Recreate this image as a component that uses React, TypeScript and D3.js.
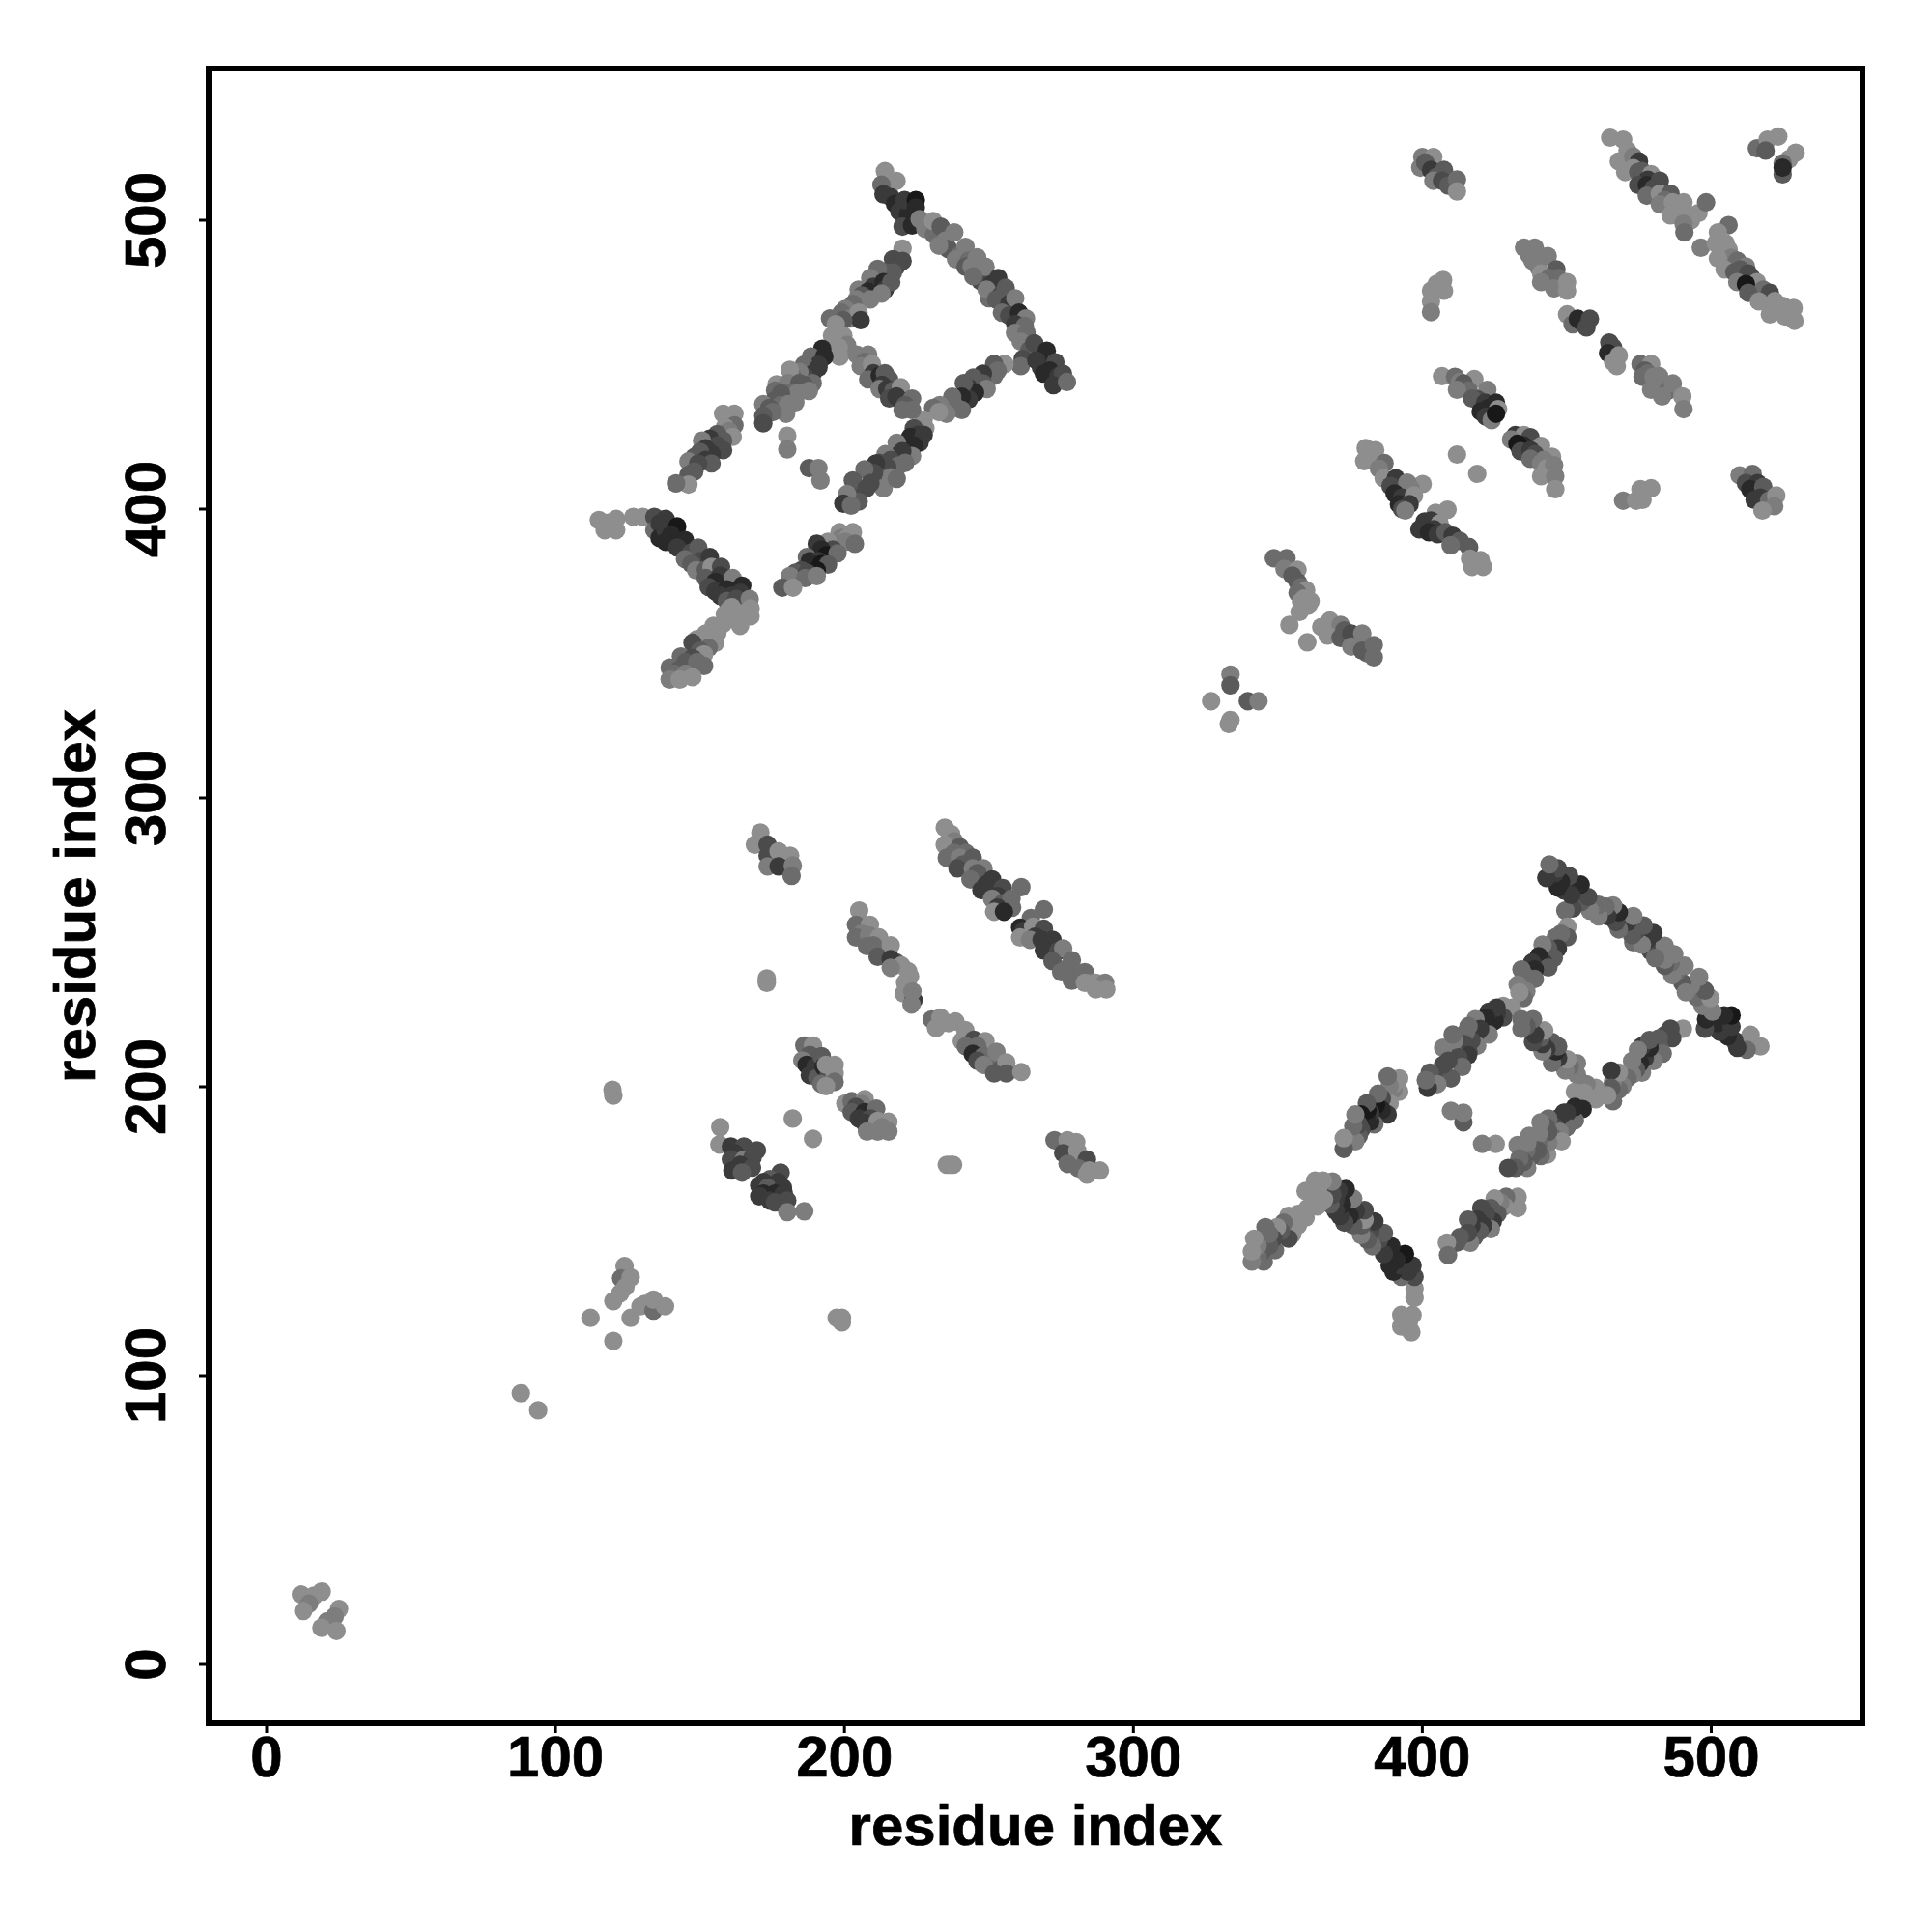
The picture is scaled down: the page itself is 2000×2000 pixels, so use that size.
import React from "react";
import * as d3 from "d3";

type P = [number, number, number];

const tickValues = [0, 100, 200, 300, 400, 500];
const axisTitle = "residue index";

// [residue i, residue j, grey level 1 (darkest) .. 8 (lightest)]
const blockStrandTop: P[] = [[214,517,8],[218,513.6,8],[212.8,512.3,6],[213.5,509,3],[216,508,3],[217.5,505.7,2],[219,503,3],[222,502,2],[220.8,507,3],[224.7,507,1],[224.7,504.4,2],[220.1,497.8,4],[223.4,498.2,2],[226,500.4,7],[228,497,7],[231,495,6],[230.7,499.7,8],[233.3,497.8,5],[235,493,7],[236,490,5],[238,495.8,7],[232.7,491.2,7],[240,488,6],[241.9,490.8,7],[238.6,486.5,7],[243,486,6],[246,484,5],[245.9,487.2,7],[241.9,483.9,5],[244,484,7],[247,479,4],[248.8,483.9,7],[244.6,480.6,6],[251,478,3],[253.2,480,3],[250,473,6],[249.2,476,7],[254,474,4],[255.8,476.6,5],[252.5,472.6,5],[257,471,3],[259.1,473,7],[254.5,468,6],[257,467,4],[260.4,468,2],[262.8,466,7],[259.1,464,3],[262.4,463.4,6],[259,461,7],[263,461,6],[261,458,7],[264,455,5],[261.7,452,4],[261,449.5,6],[265.7,457.4,4],[269,452,2],[270,454.8,2],[266.4,451.5,3],[268,449,3],[273,450.8,4],[271,448,2],[269,446.9,2],[274,446,3],[275.6,446.9,4],[272.3,442.9,3],[277,444,6]];

const blockStrandLower: P[] = [[255.4,450.2,8],[251.8,450.2,5],[253,448,6],[251.8,446.2,6],[247.9,446.9,3],[248,443.5,5],[244.6,445.5,5],[243,442,3],[249.2,441.6,7],[245.2,440.3,2],[243,438,3],[241.3,443.6,5],[240.6,438.9,2],[237.3,438.9,6],[238,436,6],[240.6,434.3,6],[233,436,7],[235.3,433,7],[230.7,435,6],[232.7,433.6,8],[227.4,431,8],[228,428,8],[226.7,428.4,8],[224,428,4],[225.4,425.7,3],[222.8,425,2],[226,423,3],[227.4,425.7,3],[222.1,421,3],[224,422,2],[223.4,418.4,7],[218.1,423,7],[220,420,3],[218.1,418.4,3],[221,416,6],[214.2,419,7],[216,417,4],[218.8,415.1,6],[214.8,414.5,4],[212,416,4],[210.9,415.8,3],[212,411,5],[216,411,7],[210.2,412.5,4],[213.5,407.2,7],[218.1,410.5,6],[206.9,413.8,6],[209,409,4],[202.9,409.9,5],[205,406,5],[207.6,407.2,4],[203,404,4],[204.9,402.6,5],[200.9,405.2,7],[199.6,401.9,3],[202.3,401.2,6]];

const blockStrandMiddle: P[] = [[220.1,490.2,8],[216.8,486.5,4],[220.1,485.9,4],[218,484,4],[216.8,481.9,5],[214,482,5],[211.5,483.2,6],[208.9,480,7],[210,477,3],[213.5,478.6,2],[214,476,3],[216.2,478.6,5],[204.9,476,7],[208.2,475.3,2],[206,474,5],[212.8,474.6,7],[204.2,472.6,7],[208.9,472.6,7],[203,471,6],[200.3,469.3,7],[199,468,6],[195,466,6],[202,466,7],[204.9,468,8],[205.6,465.4,3],[199.6,465.4,5],[197,464,8],[195.7,460,8],[199.6,460,8],[200.9,456.8,7],[198,456,8],[195.7,456.1,8],[198.3,452.8,8],[192.3,455.5,2],[188.4,452.8,6],[193,452.8,2],[191,450,3],[186,450,6],[191,449,3],[189,446.9,3],[186,446,4],[184.4,447.5,7],[182,446,6],[181.1,448.2,8],[189,443.6,6],[176.5,443.2,8],[180.5,443.6,7],[186,443,5],[184.4,443.6,5],[187.7,440.9,7],[176,441,6],[180.5,440.3,6],[183.8,440.3,7],[178,440,5],[175.8,437.6,5],[183,437,7],[171.9,436.3,7],[178,436,6],[180.5,436.3,7],[174,435,5],[179.8,433,7],[175.2,433.6,6],[171.9,432.3,5],[171.9,429.7,4]];

const blockStrandCross: P[] = [[204.2,453.5,7],[208.2,453.5,7],[207,451,6],[205.6,449.5,7],[209.5,450.2,8],[210,447,3],[208.2,444.9,6],[212.2,446.2,2],[214,447,5],[215.5,444.9,5],[213,443,3],[212.2,441.6,7],[214.8,441.6,3],[217,441,5],[219.5,442.2,8],[215.5,438.3,4],[218,439,3],[219.5,437.6,3],[223.4,438.3,6],[221,436,5],[220.1,434.3,6],[223.4,434.3,6],[180.2,425.4,8],[180.2,420.7,7],[187.7,414.2,5],[191,414.2,7],[191.7,409.9,7]];

const blockStrandLeft: P[] = [[158,433,8],[161.9,433,8],[161.9,429,6],[158.6,428.4,8],[160,427,7],[161.3,425,8],[156,426,5],[158,423.7,5],[153.4,424.4,3],[156,422,4],[150.7,423.7,7],[158,420.4,4],[152,421,3],[154,419.1,3],[150,419.8,5],[148,418,5],[152,417,3],[154,415.8,5],[146,416.5,7],[149.4,415.8,4],[148,413,5],[146,411.8,5],[146,408.5,8],[141.7,408.9,6]];

const blockStrandBottom: P[] = [[115,396.2,8],[118.3,395.3,8],[121,396.6,8],[117,392.7,8],[121,392.7,8],[126.9,397.3,8],[130.2,397.3,8],[134.2,397.3,4],[134.2,392.7,6],[136,395,3],[136,390,2],[138.1,396.6,3],[138.1,392.7,3],[142.1,394,1],[140,391,2],[138.1,388.7,2],[144.8,389.3,2],[142.1,386.7,3],[147,385,4],[149.4,386.7,5],[144.8,382.7,6],[150,382,4],[147,381,5],[153.4,383.4,3],[148.7,378.8,7],[152,379,5],[154,380,8],[157.3,380,4],[152,376.1,5],[157,377,3],[155.3,374.8,2],[161.3,376.1,7],[153,373,4],[155.3,371.5,3],[159.3,372.2,2],[157,370,3],[164.6,373.5,2],[161,370,3],[164,371,3],[159.3,368.2,5],[162.6,368.9,4],[167.2,368.9,7],[167.5,365.6,8],[167.5,362.9,8],[161,366,8],[165,364,8],[160,365,8],[158.6,363.6,8],[162.6,361.6,8],[163.9,359.6,8],[154.7,359.6,8],[158,360.3,8],[156,357,8],[152,356.9,8],[149,355,8],[155.3,353.7,8],[147.4,353.7,4],[153,352,6],[150,351,5],[151.4,349.7,8],[143.4,349,6],[147.4,348.4,4],[145,347,5],[149,347,6],[151.4,345.7,6],[139.5,345.1,6],[142.8,344.4,5],[141,343,6],[145,343,7],[147.4,341.8,8],[139.5,341,7],[143,341,8]];

const blockStrandEnd: P[] = [[202.9,392,8],[198.3,392,8],[199,390,7],[201,390,8],[200.3,388.7,7],[203.6,388,6],[194.3,388.7,8],[190.4,388,3],[196,386,4],[192,386,2],[193.7,384,1],[197.6,384.7,6],[187,383.4,6],[188,382,2],[191,382,3],[189,380.8,2],[192,381,1],[194.3,380.8,5],[185.1,378.8,4],[190.4,378.8,1],[183,378,5],[187,378,4],[181.1,376.8,7],[186.4,376.1,6],[190.4,376.8,7],[178.5,372.8,5],[182.2,372.8,8]];

const cTerminalOuter: P[] = [[400,521.9,7],[403.8,521.9,8],[399.3,518.2,7],[401,520,5],[403,517.4,3],[407.5,517.4,5],[405,515,5],[403.8,513.7,7],[406.8,513.7,4],[409,512,5],[412,514.1,6],[412,510,8],[407.2,479.3,8],[405,478,8],[403,475.6,8],[407.5,475.6,8],[403,471.9,8],[403,468.2,7],[515.8,524.9,6],[519.5,527.9,8],[523.2,529,8],[518.8,524.1,5],[529.2,523.4,8],[527,521.2,8],[524.7,519.7,6],[524.7,515.9,5],[524.7,518.2,2],[469.5,402.9,7],[474,402.9,8],[475.5,406.9,8],[479.2,407.2,8],[476.2,403.2,8],[509.8,411.7,7],[514.3,412.2,6],[512,409,4],[516,409,3],[513.5,406.9,2],[518,407.7,5],[517,404,3],[515,403.2,3],[520,403,6],[522.5,404.7,8],[521.8,401,7],[517.7,399.5,8],[412,418.9,8],[419,412.2,8]];

const cTerminalLong: P[] = [[465,528.6,8],[469.5,527.9,8],[471,524.1,8],[468,520.4,8],[473,522,7],[475,520.4,3],[473,518,8],[470.2,516.7,8],[474.7,516.7,5],[476,517,5],[479.2,515.9,8],[478,514,3],[474.7,512.2,4],[477.7,512.2,2],[482.2,513.7,4],[480,511,4],[477.7,508.5,6],[482.2,509.2,8],[485.9,509.2,5],[484,507,6],[482.2,505.5,7],[486.7,506.2,8],[490.4,506.2,8],[488,503,8],[485.9,501.7,8],[491.2,502.5,8],[495.6,502.5,8],[493,500,8],[498.2,506.2,6],[490.4,498.8,7],[490.7,495.8,6],[506,498.3,6],[502.3,495.8,8],[496.4,490.5,7],[501.6,492,8],[505,492,8],[506,489.8,8],[507,487,7],[502.3,486.8,8],[509,486,6],[512,484,7],[504.6,483,8],[510,483,5],[508,482,5],[512.8,481.6,4],[514,480,4],[509,478.6,7],[515.8,478.6,8],[512,477.9,1],[518,476,6],[512.8,474.9,5],[520.3,474.9,4],[522,472,8],[516.5,471.9,8],[521,469.6,8],[524.7,470.4,8],[526,468,8],[528.5,469.6,8],[520.3,467.4,8],[525.5,466.7,8],[528.8,465.2,8]];

const cTerminalMiddle: P[] = [[435.2,490.5,7],[438.9,490.5,7],[437,488,7],[438.1,486,7],[443.4,487.6,7],[440,484,7],[441.1,481.6,8],[446.4,483,5],[444,480,6],[447,480,6],[441.1,478.6,7],[445.6,476.4,7],[450.1,478.6,8],[450.1,475.6,8],[450.1,467.4,8],[452,464,6],[453.8,465.9,2],[455,465,2],[458,465.9,4],[456.8,462.9,4],[464.7,457.7,4],[466,456,4],[464.3,454,2],[468,453.2,8],[466,451,8],[467.3,449.5,8],[475.5,450.2,6],[479.2,450.2,8],[477,448,5],[478,447,6],[476.2,445.8,6],[480,445.8,7],[482,446,7],[483.7,442.8,7],[479.2,441.3,7],[485,441,6],[486.7,443.5,7],[483,439,7],[490,439,8],[490.4,434.6,7]];

const cTerminalInner: P[] = [[406.8,446,8],[411.3,445.8,6],[413,444,7],[418,445,8],[414.3,443.5,5],[416,441,6],[412,441.3,7],[422.5,441.3,7],[419,438,4],[417.2,438.3,5],[421.7,436.8,3],[423,435,2],[425.5,436.8,2],[426.2,434.6,8],[420.2,433.8,2],[422,432,3],[424,430.8,7],[425.5,433,1],[432.2,425.6,3],[435.2,425.6,8],[437.4,424.9,4],[430.7,424.1,7],[435,422,2],[432.9,422.6,1],[441.1,421.9,8],[434,420,4],[437.4,420.4,3],[439,419,4],[444.9,418.1,8],[442,417,7],[437.4,417.4,6],[441.1,415.9,7],[443,414,8],[445.6,415.2,7],[441.1,411.4,8],[446,411.4,7],[446,406.9,8]];

const cTerminalLeft: P[] = [[380.4,421.1,8],[383.7,420.4,8],[382,418,8],[379.9,416.6,8],[383.7,416.6,8],[386.9,415.9,6],[385,414,7],[386.6,410.7,8],[390.8,410.7,3],[400.1,408.7,8],[389,408,4],[394.8,409.2,7],[396,407,7],[390.4,405.4,2],[393,404,3],[397.1,404.7,8],[391.9,401.7,2],[395.6,401.7,3],[393,400,4],[394.1,399.5,7],[408.7,399.8,8],[404.6,398.7,8],[406,398,8],[403,396,3],[400.8,395.7,3],[406,395,8],[404,393,3],[399,393,3],[402.3,392,2],[405.3,391.3,3],[408,392,5],[410.5,390.8,3],[413,389,5],[409.8,387.5,6],[416.2,386.8,5],[416.5,382.8,8],[420.2,382.3,8],[417.2,380,8],[421,380,8]];

const cTerminalLinker: P[] = [[348.6,383,6],[353,383,6],[352.3,379.3,7],[356.8,379,8],[355,377,5],[356.8,374.8,5],[358,373,6],[359.8,371.9,8],[356.8,371,6],[359,369,8],[361.3,368.1,8],[358,368,8],[357.5,364.4,8],[360.5,366.6,8],[354,359.9,8],[360.2,353.9,8],[368,361.4,8],[365,359.2,8],[369,358,8],[371.7,359.9,7],[373,358,5],[367.2,356.2,8],[371.7,355.4,5],[375.4,356.9,4],[377,354,4],[379.2,356.9,7],[375.4,352.4,7],[381,350,6],[379.2,351,5],[383.2,352.9,6],[383.2,348.7,6],[333.6,342.7,7],[333.6,339,5],[326.9,333.5,8],[339.6,333.5,5],[343.3,333.5,7],[333.6,327,8],[333,325.6,8]];

const nTerminalCore: P[] = [[170.9,288,8],[169,283.8,8],[173.4,283.8,4],[173.4,280,4],[177.2,281.5,8],[181.2,280,8],[173.4,276.3,7],[177.2,276.3,3],[182.1,276.6,7],[181.7,273,6],[272.7,181.5,6],[277.2,181.5,8],[280.2,180.8,8],[275.7,177,4],[280.6,177.8,8],[277.2,173.3,6],[283.9,174.8,4],[280.9,171.8,6],[284.7,171,8],[288.4,171,8],[283.9,169.6,8],[173.1,237.5,8],[173.1,236,8],[119.7,199,8],[120,196.9,8],[182.1,189,8],[189.1,182,8],[235.4,173,8],[236.6,173,8],[237.6,173,8],[197.3,120,8],[199.1,120,8],[199.1,118.4,8]];

const nTerminalLong: P[] = [[234.7,289.7,8],[236.9,287.5,8],[238,285,7],[234.7,283.8,8],[239.9,283,5],[238,281,6],[242,281,6],[235.4,279.3,6],[239.9,279.3,7],[244.4,279.3,5],[241,277,5],[239.1,275.6,4],[244.4,275.6,7],[248.1,275.6,7],[246,274,5],[243.6,271.8,6],[249,270,3],[251.1,271.8,3],[247.4,268.1,3],[254.8,268.8,4],[253,266,3],[261.2,269.1,6],[251.1,265.1,7],[254.8,263.6,5],[257.8,265.1,6],[253,262,3],[258,262,6],[251.8,260.6,8],[255.2,260.6,2],[269,261.4,6],[264.5,258.4,6],[260.8,255.1,2],[262,254,3],[260.8,251.7,8],[265.3,255.4,8],[269,254.7,4],[266,252,3],[264.2,250.9,7],[268.2,250.9,3],[272,250.9,3],[270,249,3],[269,247.2,3],[274,247,4],[275.7,247.9,7],[272,243.5,5],[278.7,243.8,6],[277,241,6],[275,239.7,6],[281,238,6],[283.2,239.7,6],[278.7,236.7,6],[285,236,7],[283.2,236,8],[287,236,8],[290.2,236,7],[287,233.7,8],[290.6,233.7,8]];

const nTerminalMiddle: P[] = [[205.1,261,8],[204,256.1,6],[208.8,256.1,8],[206,253,7],[204,251.7,6],[208.5,252.4,7],[212,251.7,8],[210,249,6],[207.8,248.7,6],[213,246,6],[216,249,8],[211.5,245,5],[218,243,5],[216,244.2,3],[219.7,242,8],[222,240,8],[216,241.2,7],[222.7,238.2,8],[221,236,8],[220.5,232.3,8],[223.9,230,3],[223.5,233,7],[223.2,228.5,7],[230.2,223.3,6],[233.2,224,8],[236,222,8],[231.7,220.3,8],[238.4,222.6,8],[241.8,219.6,8],[240.6,215.8,8],[244.8,216.3,4],[248.8,215.8,8],[246,214,6],[242,214,6],[244.4,211.4,2],[250,209,6],[248.1,210.6,6],[252.6,212.1,7],[246,209,4],[248.1,207.6,7],[254,206,5],[256,208.4,8],[251.8,204.6,5],[256,204.6,5],[261.2,205.1,8]];

const nTerminalInner: P[] = [[186.1,214.3,6],[189.1,214.3,8],[188,211,5],[185.4,209.1,7],[186.9,207.6,2],[190,207,3],[192.1,210.6,5],[188,204,3],[190.6,203.1,5],[192.8,206.9,2],[194,203,4],[193.6,207.6,8],[196.6,207.6,8],[196.6,204.6,8],[196.6,201.7,6],[192,201,6],[193.6,200.2,8],[200.3,194.2,8],[202.5,195,6],[207,195.7,8],[206,194,7],[204,193,4],[202.5,191.2,5],[207,191.2,2],[211,192.4,6],[205,189,3],[209,189,4],[207,187.5,3],[211.5,188.2,8],[215.2,187.9,8],[213,186,7],[207.8,184.5,7],[211.5,184.5,7],[215.2,184.5,7],[157,186,8],[156.7,180,8],[160.7,179.3,3],[165.2,179.3,4],[169.7,178,4],[162,177,3],[163,176,3],[160.7,174.8,4],[165.2,174.8,7],[168.2,175.5,4],[164,173,3],[168,172,4],[161.2,171,3],[164.5,170.3,5],[177.9,170.3,4],[174.2,168,5],[172,167,3],[177,167,3],[170.5,165.8,3],[173.4,165,5],[178.7,165,3],[172,163,2],[176,163,2],[179,163,3],[170.5,162.1,3],[174.2,160.6,3],[176,160,4],[180.2,160.6,4],[180.2,156.6,7],[186.1,156.9,7]];

const nTerminalSparse: P[] = [[123.9,137.9,8],[122.7,133.7,6],[126,134,8],[124.2,130.7,8],[122.4,128.5,8],[120,125.8,8],[112.1,120,8],[120,112,8],[126,120,8],[129.4,124,8],[130.9,124.8,8],[133.9,122.5,6],[133.9,126.3,8],[137.9,124,8],[88,93.9,8],[94,88,8],[11.9,24.2,8],[19.1,25.2,8],[16.4,23.8,8],[14.7,21,7],[12.7,18.5,8],[25.1,19.2,8],[23.6,16.6,7],[20.9,14.9,7],[19,12.7,8],[24.2,11.6,8]];

const interDomainBlock = [...blockStrandTop, ...blockStrandLower, ...blockStrandMiddle, ...blockStrandCross, ...blockStrandLeft, ...blockStrandBottom, ...blockStrandEnd];
const withinDomains = [...cTerminalOuter, ...cTerminalLong, ...cTerminalMiddle, ...cTerminalInner, ...cTerminalLeft, ...cTerminalLinker, ...nTerminalCore, ...nTerminalLong, ...nTerminalMiddle, ...nTerminalInner, ...nTerminalSparse];

const x = d3.scaleLinear().domain([0, 500]).range([276, 1771.5]);
const y = d3.scaleLinear().domain([0, 500]).range([1723, 228]);
const grey = d3.scaleLinear().domain([1, 8]).range([24, 142]).clamp(true);
const fillOf = (level: number) => { const g = Math.round(grey(level)); return `rgb(${g},${g},${g})`; };

const left = 216, right = 1928, top = 71, bottom = 1784;
const font = "'Liberation Sans', Arial, sans-serif";
const textProps = { fontFamily: font, fontWeight: "bold", fontSize: 60, fill: "#000", stroke: "#000", strokeWidth: 0.7, textAnchor: "middle" } as const;

export default function App() {
  // the contact map is symmetric: the block above the diagonal is repeated below it
  const points: P[] = [
    ...withinDomains,
    ...interDomainBlock,
    ...interDomainBlock.map(([a, b, s]) => [b, a, s] as P),
  ];
  return (
    <svg width={2000} height={2000} viewBox="0 0 2000 2000" style={{ position: "absolute", left: 0, top: 0, background: "#fff" }}>
      <g>
        {points.map(([a, b, s], i) => (
          <circle key={i} cx={x(a)} cy={y(b)} r={9.6} fill={fillOf(s)} />
        ))}
      </g>
      <rect x={left} y={top} width={right - left} height={bottom - top} fill="none" stroke="#000" strokeWidth={6} />
      {tickValues.map((t) => (
        <g key={t}>
          <line x1={x(t)} x2={x(t)} y1={bottom} y2={bottom + 10} stroke="#000" strokeWidth={3} />
          <text x={x(t)} y={1839} {...textProps}>{t}</text>
          <line y1={y(t)} y2={y(t)} x1={left - 10} x2={left} stroke="#000" strokeWidth={3} />
          <text transform={`translate(170.5,${y(t)}) rotate(-90)`} {...textProps}>{t}</text>
        </g>
      ))}
      <text x={(left + right) / 2} y={1910} {...textProps}>{axisTitle}</text>
      <text transform={`translate(98,${(top + bottom) / 2}) rotate(-90)`} {...textProps}>{axisTitle}</text>
    </svg>
  );
}
